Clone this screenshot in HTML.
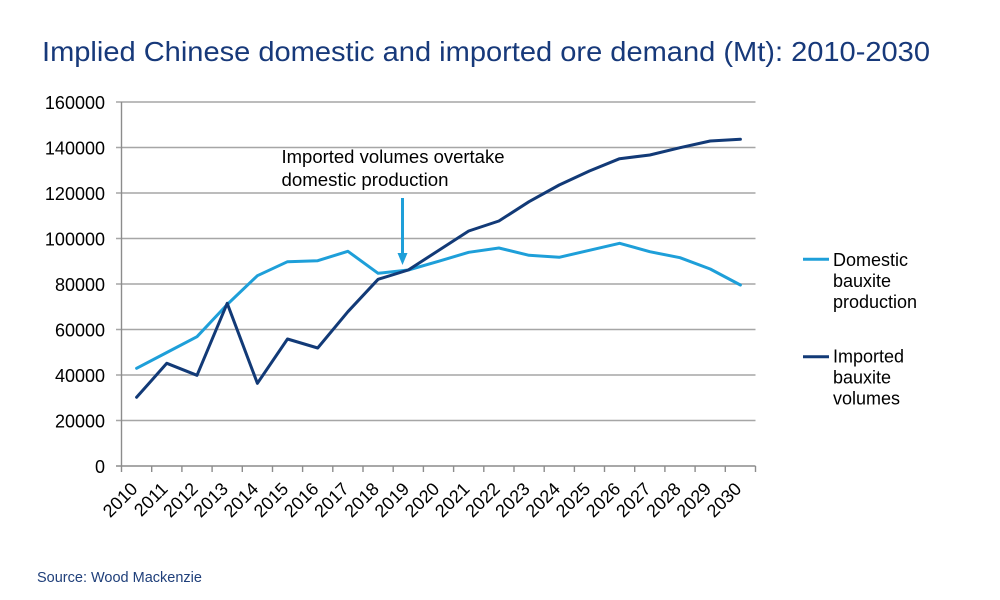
<!DOCTYPE html>
<html>
<head>
<meta charset="utf-8">
<style>
  html,body{margin:0;padding:0;background:#fff;}
  svg{display:block;}
  text{font-family:"Liberation Sans", Arial, sans-serif;}
</style>
</head>
<body>
<svg width="1000" height="600" viewBox="0 0 1000 600" xmlns="http://www.w3.org/2000/svg">
  <rect width="1000" height="600" fill="#fff"/>
  <!-- Title -->
  <text x="42" y="61" font-size="28" fill="#17397a" textLength="888" lengthAdjust="spacingAndGlyphs">Implied Chinese domestic and imported ore demand (Mt): 2010-2030</text>

  <!-- gridlines -->
  <g stroke="#a6a6a6" stroke-width="1.4">
    <line x1="116" y1="102" x2="755.5" y2="102"/>
    <line x1="116" y1="147.5" x2="755.5" y2="147.5"/>
    <line x1="116" y1="193" x2="755.5" y2="193"/>
    <line x1="116" y1="238.5" x2="755.5" y2="238.5"/>
    <line x1="116" y1="284" x2="755.5" y2="284"/>
    <line x1="116" y1="329.5" x2="755.5" y2="329.5"/>
    <line x1="116" y1="375" x2="755.5" y2="375"/>
    <line x1="116" y1="420.5" x2="755.5" y2="420.5"/>
  </g>
  <!-- axes -->
  <g stroke="#8c8c8c" stroke-width="1.4">
    <line x1="121.5" y1="102" x2="121.5" y2="466"/>
    <line x1="116" y1="466" x2="755.5" y2="466"/>
    <line x1="121.5" y1="466" x2="121.5" y2="472"/>
    <line x1="151.7" y1="466" x2="151.7" y2="472"/>
    <line x1="181.9" y1="466" x2="181.9" y2="472"/>
    <line x1="212.1" y1="466" x2="212.1" y2="472"/>
    <line x1="242.3" y1="466" x2="242.3" y2="472"/>
    <line x1="272.5" y1="466" x2="272.5" y2="472"/>
    <line x1="302.6" y1="466" x2="302.6" y2="472"/>
    <line x1="332.8" y1="466" x2="332.8" y2="472"/>
    <line x1="363.0" y1="466" x2="363.0" y2="472"/>
    <line x1="393.2" y1="466" x2="393.2" y2="472"/>
    <line x1="423.4" y1="466" x2="423.4" y2="472"/>
    <line x1="453.6" y1="466" x2="453.6" y2="472"/>
    <line x1="483.8" y1="466" x2="483.8" y2="472"/>
    <line x1="514.0" y1="466" x2="514.0" y2="472"/>
    <line x1="544.2" y1="466" x2="544.2" y2="472"/>
    <line x1="574.4" y1="466" x2="574.4" y2="472"/>
    <line x1="604.5" y1="466" x2="604.5" y2="472"/>
    <line x1="634.7" y1="466" x2="634.7" y2="472"/>
    <line x1="664.9" y1="466" x2="664.9" y2="472"/>
    <line x1="695.1" y1="466" x2="695.1" y2="472"/>
    <line x1="725.3" y1="466" x2="725.3" y2="472"/>
    <line x1="755.5" y1="466" x2="755.5" y2="472"/>
  </g>

  <!-- y labels -->
  <g font-size="18" fill="#000" text-anchor="end">
    <text x="105" y="109">160000</text>
    <text x="105" y="154.5">140000</text>
    <text x="105" y="200">120000</text>
    <text x="105" y="245.5">100000</text>
    <text x="105" y="291">80000</text>
    <text x="105" y="336.5">60000</text>
    <text x="105" y="382">40000</text>
    <text x="105" y="427.5">20000</text>
    <text x="105" y="473">0</text>
  </g>

  <!-- x labels -->
  <g font-size="18" fill="#000" text-anchor="end">
    <text transform="translate(138.6,490) rotate(-45)">2010</text>
    <text transform="translate(168.8,490) rotate(-45)">2011</text>
    <text transform="translate(199.0,490) rotate(-45)">2012</text>
    <text transform="translate(229.2,490) rotate(-45)">2013</text>
    <text transform="translate(259.4,490) rotate(-45)">2014</text>
    <text transform="translate(289.5,490) rotate(-45)">2015</text>
    <text transform="translate(319.7,490) rotate(-45)">2016</text>
    <text transform="translate(349.9,490) rotate(-45)">2017</text>
    <text transform="translate(380.1,490) rotate(-45)">2018</text>
    <text transform="translate(410.3,490) rotate(-45)">2019</text>
    <text transform="translate(440.5,490) rotate(-45)">2020</text>
    <text transform="translate(470.7,490) rotate(-45)">2021</text>
    <text transform="translate(500.9,490) rotate(-45)">2022</text>
    <text transform="translate(531.0,490) rotate(-45)">2023</text>
    <text transform="translate(561.2,490) rotate(-45)">2024</text>
    <text transform="translate(591.4,490) rotate(-45)">2025</text>
    <text transform="translate(621.6,490) rotate(-45)">2026</text>
    <text transform="translate(651.8,490) rotate(-45)">2027</text>
    <text transform="translate(682.0,490) rotate(-45)">2028</text>
    <text transform="translate(712.2,490) rotate(-45)">2029</text>
    <text transform="translate(742.4,490) rotate(-45)">2030</text>
  </g>

  <!-- Domestic series -->
  <polyline fill="none" stroke="#1e9fd9" stroke-width="3" stroke-linejoin="round" stroke-linecap="round"
    points="136.6,368.3 166.8,352.5 197.0,336.7 227.2,304.5 257.4,275.7 287.5,261.7 317.7,260.7 347.9,251.3 378.1,273.3 408.3,270 438.5,261.3 468.7,252.3 498.9,248 529.0,255.3 559.2,257.3 589.4,250.3 619.6,243.3 649.8,251.7 680.0,257.7 710.2,269 740.4,285"/>
  <!-- Imported series -->
  <polyline fill="none" stroke="#123a77" stroke-width="3" stroke-linejoin="round" stroke-linecap="round"
    points="136.6,397.3 166.8,363.3 197.0,375.3 227.2,303.3 257.4,383.3 287.5,339 317.7,348 347.9,311.7 378.1,279.3 408.3,270 438.5,250.5 468.7,231 498.9,221 529.0,201.7 559.2,185 589.4,171 619.6,158.7 649.8,155 680.0,147.7 710.2,141 740.4,139.3"/>

  <!-- Annotation -->
  <text x="281.5" y="163" font-size="18.5" fill="#000" textLength="223" lengthAdjust="spacingAndGlyphs">Imported volumes overtake</text>
  <text x="281.5" y="186" font-size="18.5" fill="#000" textLength="167" lengthAdjust="spacingAndGlyphs">domestic production</text>
  <line x1="402.5" y1="198" x2="402.5" y2="255" stroke="#1e9fd9" stroke-width="3"/>
  <polygon points="397.5,253 407.5,253 402.5,265" fill="#1e9fd9"/>

  <!-- Legend -->
  <line x1="803" y1="259.3" x2="829" y2="259.3" stroke="#1e9fd9" stroke-width="3"/>
  <g font-size="18" fill="#000">
    <text x="833" y="266">Domestic</text>
    <text x="833" y="287">bauxite</text>
    <text x="833" y="308">production</text>
  </g>
  <line x1="803" y1="356.7" x2="829" y2="356.7" stroke="#123a77" stroke-width="3"/>
  <g font-size="18" fill="#000">
    <text x="833" y="362.5">Imported</text>
    <text x="833" y="383.5">bauxite</text>
    <text x="833" y="404.5">volumes</text>
  </g>

  <!-- Source -->
  <text x="37" y="582" font-size="14.5" fill="#1f3f7a">Source: Wood Mackenzie</text>
</svg>
</body>
</html>
